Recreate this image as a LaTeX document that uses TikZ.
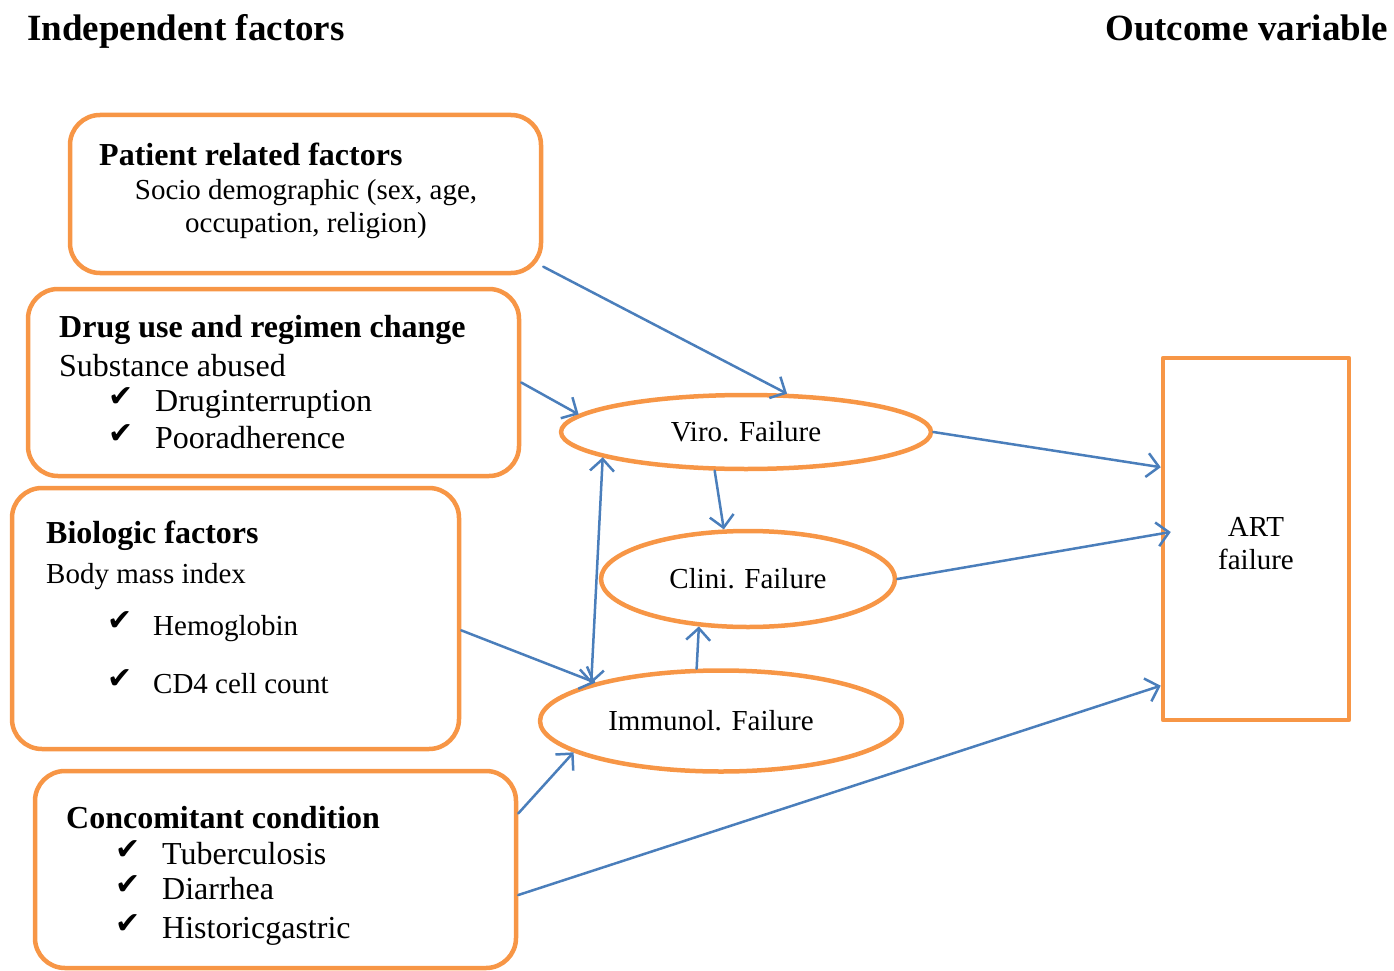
\documentclass[tikz,border=0pt]{standalone}
\usepackage{fontspec}
\setmainfont{Liberation Serif}
\newfontfamily\checkfont{DejaVu Sans}
\usetikzlibrary{shapes.geometric,arrows.meta,calc}

\definecolor{boxorange}{HTML}{F79646}
\definecolor{linkblue}{HTML}{4A7EBB}

\newcommand\tick{{\checkfont\fontsize{30}{34}\selectfont ✔}}

\tikzset{
  factorbox/.style={draw=boxorange, line width=4.5pt, rounded corners=30pt, inner sep=0pt},
  failnode/.style={draw=boxorange, ellipse, line width=4.5pt, inner sep=0pt, font=\fontsize{29}{34}\selectfont},
  headtxt/.style={anchor=base west, inner sep=0pt, font=\fontsize{37}{44}\selectfont\bfseries},
  boldtxt/.style={anchor=base west, inner sep=0pt, font=\fontsize{32}{38}\selectfont\bfseries},
  bigtxt/.style={anchor=base west, inner sep=0pt, font=\fontsize{32}{38}\selectfont},
  smalltxt/.style={anchor=base west, inner sep=0pt, font=\fontsize{29}{34}\selectfont},
  ticktxt/.style={anchor=base west, inner sep=0pt},
  link/.style={draw=linkblue, line width=2.5pt, -{Straight Barb[length=12pt,width=24pt]}}
}

\begin{document}
\begin{tikzpicture}[x=1pt, y=-1pt, line join=round, line cap=round]
	\useasboundingbox (0,0) rectangle (1394,971);
	%Tiêu đề hai cột
	\node[headtxt] (hIndep) at (27,41) {Independent factors};
	\node[headtxt, anchor=base east] (hOut) at (1388,41) {Outcome variable};
	%Các khối yếu tố độc lập
	\node[factorbox, minimum width=471pt, minimum height=158pt] (patient) at (305.5,194) {};
	\node[factorbox, minimum width=491pt, minimum height=187pt] (drug) at (273.5,382.5) {};
	\node[factorbox, minimum width=447pt, minimum height=261pt] (bio) at (235.5,618.5) {};
	\node[factorbox, minimum width=481pt, minimum height=197pt] (conc) at (275.5,869.5) {};
	%Chữ trong khối bệnh nhân
	\node[boldtxt] (pT) at (99,165) {Patient related factors};
	\node[smalltxt, anchor=base] (pL1) at (306,199) {Socio demographic (sex, age,};
	\node[smalltxt, anchor=base] (pL2) at (306,232) {occupation, religion)};
	%Chữ trong khối thuốc
	\node[boldtxt] (dT) at (59,337) {Drug use and regimen change};
	\node[bigtxt] (dL1) at (59,376) {Substance abused};
	\foreach \y/\t [count=\i] in {411/Druginterruption, 448/Pooradherence}{
		\node[ticktxt] (dC\i) at (108,\y-5) {\tick};
		\node[bigtxt] (dI\i) at (155,\y) {\t};
	}
	%Chữ trong khối sinh học
	\node[boldtxt] (bT) at (46,543) {Biologic factors};
	\node[smalltxt] (bL1) at (46,583) {Body mass index};
	\foreach \y/\t [count=\i] in {635/Hemoglobin, 693/CD4 cell count}{
		\node[ticktxt] (bC\i) at (107,\y-5) {\tick};
		\node[smalltxt] (bI\i) at (153,\y) {\t};
	}
	%Chữ trong khối bệnh kèm
	\node[boldtxt] (cT) at (66,828) {Concomitant condition};
	\foreach \y/\t [count=\i] in {864/Tuberculosis, 899/Diarrhea, 938/Historicgastric}{
		\node[ticktxt] (cC\i) at (115,\y-5) {\tick};
		\node[bigtxt] (cI\i) at (162,\y) {\t};
	}
	%Các loại thất bại
	\node[failnode, minimum width=370pt, minimum height=74pt] (viro) at (746,432) {Viro. Failure};
	\node[failnode, minimum width=294pt, minimum height=96pt] (clini) at (748,579) {Clini. Failure};
	\node[failnode, minimum width=362pt, minimum height=101pt] (immu) at (721,721) {\hspace*{-20pt}Immunol. Failure};
	%Kết cục
	\node[draw=boxorange, line width=4.5pt, minimum width=186pt, minimum height=362pt, inner sep=0pt,
		align=center, font=\fontsize{29}{33}\selectfont] (art) at (1256,539) {\rule{0pt}{28pt}ART\\failure};
	%Các mũi tên
	\draw[link] (patient.-17) -- (viro.43);
	\draw[link] (drug.east) -- (viro.174);
	\draw[link] (viro.east) -- (art.143);
	\draw[link] (viro.231) -- (clini.116);
	\draw[link, {Straight Barb[length=12pt,width=24pt]}-{Straight Barb[length=12pt,width=24pt]}] (viro.190) -- (immu.164);
	\draw[link] (clini.east) -- ($(art.west)+(10,-7)$);
	\draw[link] (immu.115) -- (clini.224);
	\draw[link] (bio.-3.5) -- (immu.163);
	\draw[link] (conc.13) -- (immu.192);
	\draw[link] (conc.-6.5) -- (art.237);
\end{tikzpicture}
\end{document}
